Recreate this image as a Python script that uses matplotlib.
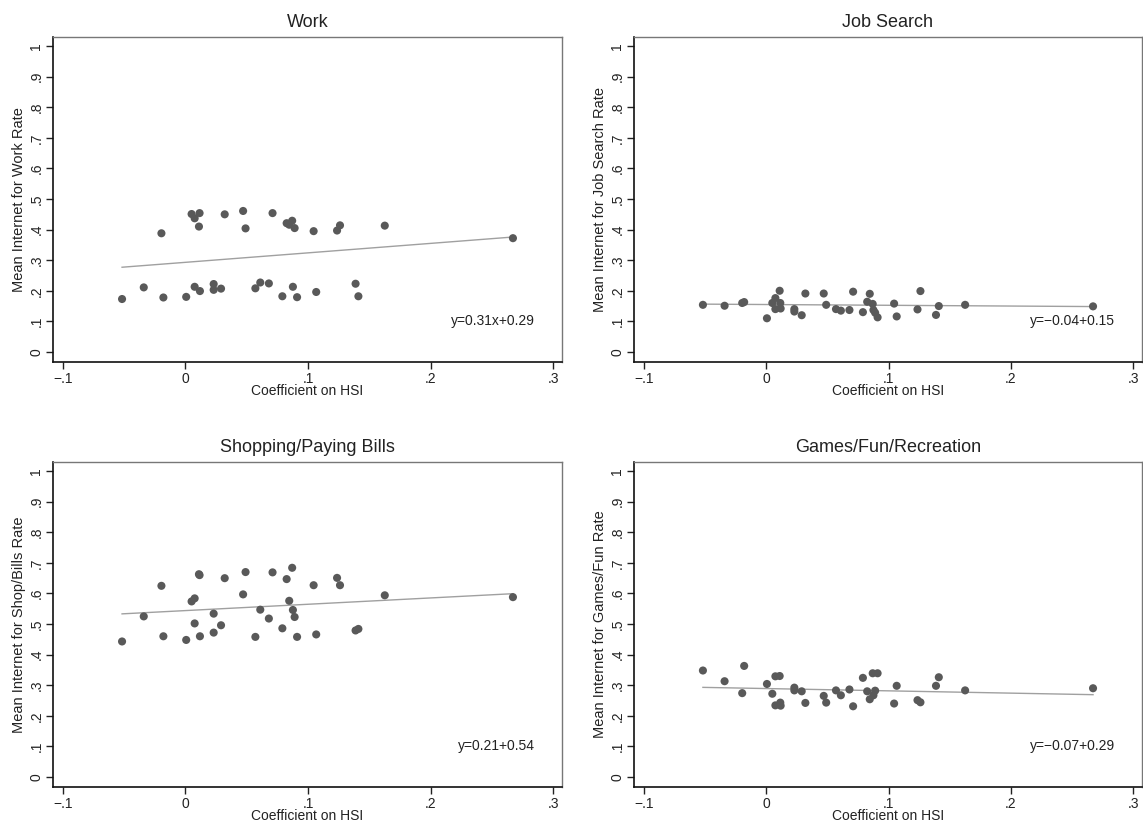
import numpy as np
import matplotlib
matplotlib.use("Agg")
import matplotlib.pyplot as plt

plt.rcParams['font.family'] = ['Liberation Sans Narrow', 'Liberation Sans', 'DejaVu Sans']

# coefficient on HSI (same states in each panel)
coef = [-0.0517, -0.034, -0.0196, -0.018, 0.0006, 0.005, 0.0075, 0.0075, 0.011, 0.0115,
        0.0118, 0.023, 0.023, 0.029, 0.032, 0.047, 0.049, 0.057, 0.061, 0.068,
        0.071, 0.079, 0.0825, 0.0846, 0.087, 0.0876, 0.089, 0.091, 0.1045, 0.1066,
        0.1236, 0.126, 0.1387, 0.141, 0.1625, 0.267]

work = [0.173, 0.211, 0.388, 0.178, 0.180, 0.451, 0.437, 0.213, 0.410, 0.454,
        0.199, 0.222, 0.203, 0.207, 0.450, 0.461, 0.404, 0.208, 0.227, 0.224,
        0.454, 0.182, 0.421, 0.416, 0.429, 0.213, 0.405, 0.179, 0.395, 0.196,
        0.397, 0.414, 0.223, 0.182, 0.413, 0.372]

jobsearch = [0.154, 0.151, 0.160, 0.163, 0.110, 0.160, 0.176, 0.140, 0.200, 0.160,
             0.142, 0.140, 0.132, 0.120, 0.191, 0.191, 0.154, 0.140, 0.135, 0.137,
             0.197, 0.130, 0.164, 0.190, 0.157, 0.137, 0.128, 0.113, 0.158, 0.116,
             0.139, 0.199, 0.121, 0.150, 0.154, 0.149]

shopping = [0.443, 0.525, 0.625, 0.460, 0.448, 0.574, 0.584, 0.502, 0.663, 0.660,
            0.460, 0.534, 0.472, 0.496, 0.650, 0.597, 0.670, 0.458, 0.547, 0.518,
            0.669, 0.486, 0.647, 0.576, 0.684, 0.546, 0.523, 0.458, 0.627, 0.466,
            0.651, 0.627, 0.479, 0.484, 0.594, 0.588]

games = [0.348, 0.313, 0.274, 0.363, 0.304, 0.272, 0.329, 0.234, 0.330, 0.243,
         0.233, 0.292, 0.283, 0.280, 0.242, 0.265, 0.243, 0.283, 0.267, 0.286,
         0.231, 0.324, 0.280, 0.254, 0.339, 0.267, 0.282, 0.339, 0.240, 0.298,
         0.251, 0.244, 0.298, 0.326, 0.283, 0.290]

titles = ['Work', 'Job Search', 'Shopping/Paying Bills', 'Games/Fun/Recreation']
ylabels = ['Mean Internet for Work Rate', 'Mean Internet for Job Search Rate',
           'Mean Internet for Shop/Bills Rate', 'Mean Internet for Games/Fun Rate']
eq_text = ['y=0.31x+0.29', 'y=\u22120.04+0.15', 'y=0.21+0.54', 'y=\u22120.07+0.29']
# fitted line as drawn (slope, intercept)
fit_slope = [0.31, -0.025, 0.207, -0.075]
fit_icpt = [0.293, 0.155, 0.544, 0.289]

series = [work, jobsearch, shopping, games]

W, H = 1143, 827
fig = plt.figure(figsize=(W / 100, H / 100), dpi=100)
# axes boxes in pixels: left, top, right, bottom
boxes = [(53, 37, 562, 362), (634, 37, 1142, 362),
         (53, 462, 562, 787), (634, 462, 1142, 787)]

xticks = [-0.1, 0, 0.1, 0.2, 0.3]
xtl = ['\u2212.1', '0', '.1', '.2', '.3']
yticks = np.round(np.arange(0, 1.01, 0.1), 1)
ytl = ['0'] + ['.%d' % i for i in range(1, 10)] + ['1']

for i in range(4):
    l, t, r, b = boxes[i]
    ax = fig.add_axes([l / W, 1 - b / H, (r - l) / W, (b - t) / H])
    x = np.array(coef)
    ax.scatter(x, series[i], s=34, color='#595959', edgecolors='none', zorder=3)
    xl = np.array([x.min(), x.max()])
    ax.plot(xl, fit_slope[i] * xl + fit_icpt[i], color='#a0a0a0', lw=1.0, zorder=2)
    ax.text(0.285, 0.10, eq_text[i], ha='right', va='center', fontsize=10, color='#222222')

    ax.set_xlim(-0.108, 0.307)
    ax.set_ylim(-0.033, 1.03)
    ax.set_xticks(xticks)
    ax.set_xticklabels(xtl)
    ax.set_yticks(yticks)
    ax.set_yticklabels(ytl, rotation=90, va='center')
    ax.tick_params(direction='out', length=5, width=1, labelsize=10, colors='#222222', pad=2)
    ax.set_xlabel('Coefficient on HSI', fontsize=10, color='#222222', labelpad=-1)
    ax.set_ylabel(ylabels[i], fontsize=10.5, color='#222222', labelpad=2)
    ax.set_title(titles[i], fontsize=13, color='#222222', pad=7)
    for s in ['left', 'bottom']:
        ax.spines[s].set_color('#111111')
        ax.spines[s].set_linewidth(1.2)
    for s in ['top', 'right']:
        ax.spines[s].set_color('#777777')
        ax.spines[s].set_linewidth(1.0)

fig.savefig('out.png', dpi=100, facecolor='white')
